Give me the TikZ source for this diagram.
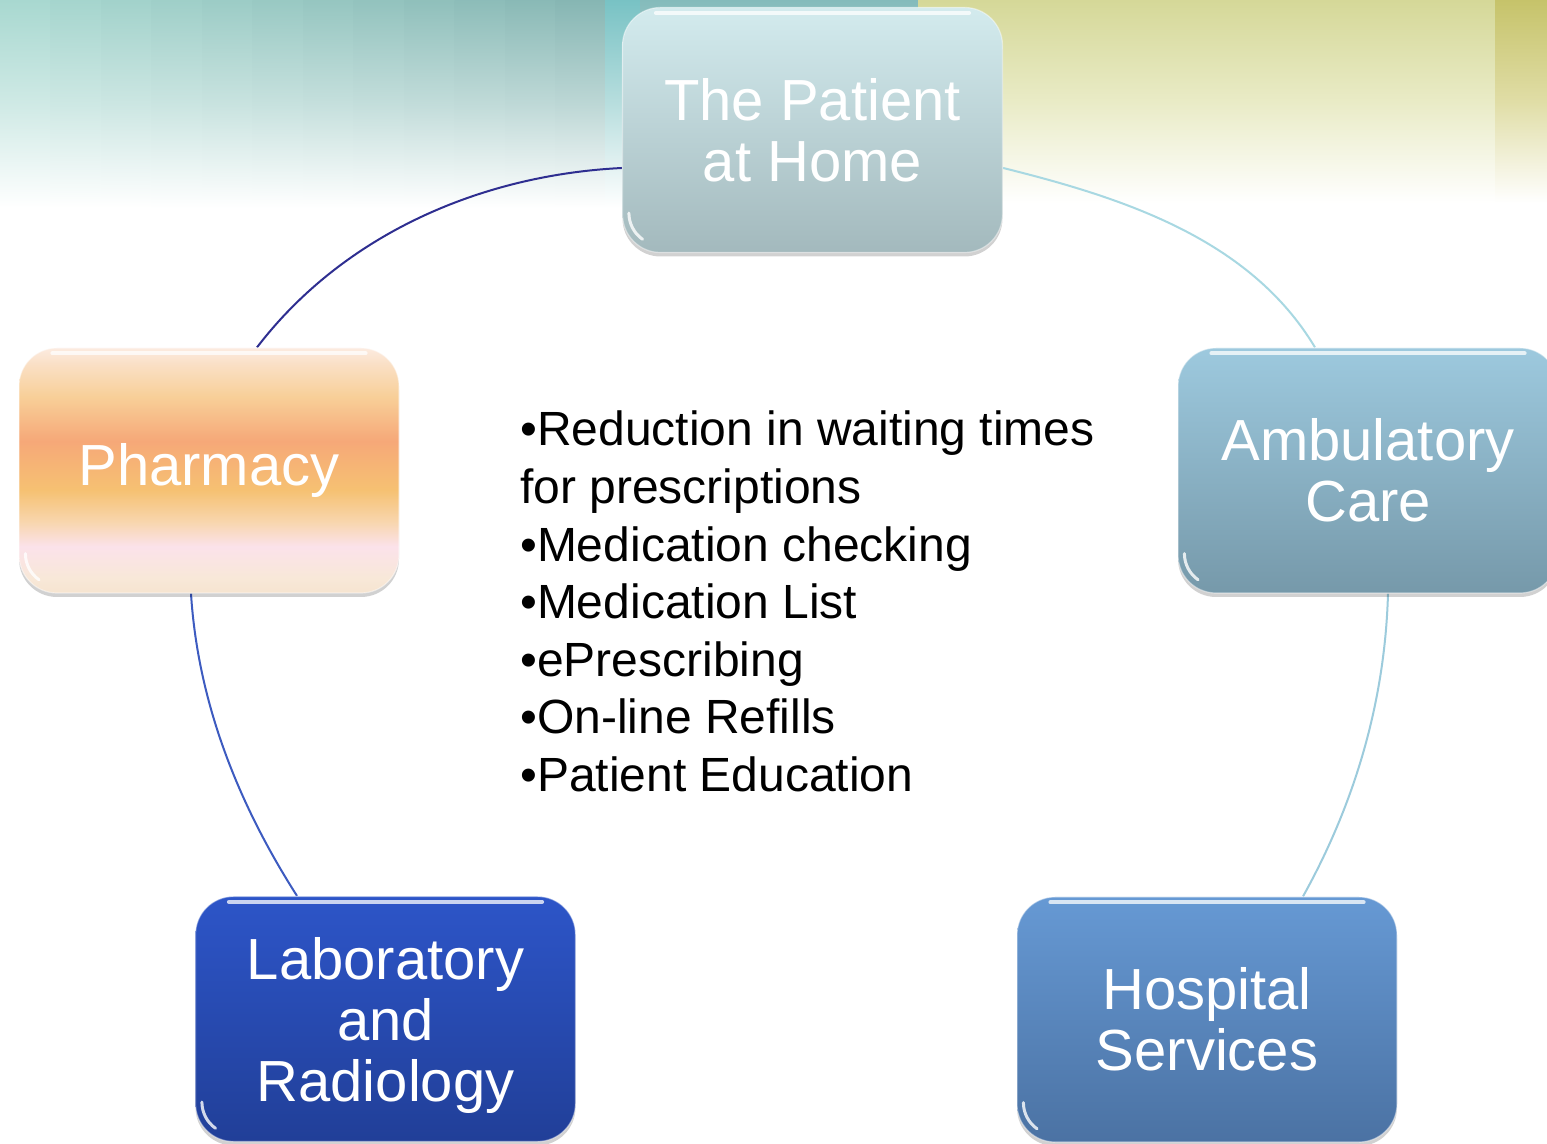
\documentclass[tikz,border=0pt]{standalone}
\usepackage{fontspec}
\setmainfont{Liberation Sans}
\usetikzlibrary{shadows}

\definecolor{homeTop}{HTML}{D3EBEE}
\definecolor{homeBot}{HTML}{A3B9BD}
\definecolor{ambTop}{HTML}{9DC9DE}
\definecolor{ambBot}{HTML}{7699AA}
\definecolor{labTop}{HTML}{2D55C8}
\definecolor{labBot}{HTML}{213F98}
\definecolor{hospTop}{HTML}{6699D4}
\definecolor{hospBot}{HTML}{4B72A3}
\definecolor{phA}{HTML}{FCEBE0}
\definecolor{phB}{HTML}{FADFC4}
\definecolor{phC}{HTML}{F8CF98}
\definecolor{phD}{HTML}{F6A878}
\definecolor{phE}{HTML}{F6C172}
\definecolor{phF}{HTML}{F8D6AE}
\definecolor{phG}{HTML}{FBE2EA}
\definecolor{phH}{HTML}{F8E8D8}
\definecolor{phI}{HTML}{F6E4D0}
\definecolor{arcNavy}{HTML}{2E2E90}
\definecolor{arcBlue}{HTML}{3D5BC0}
\definecolor{arcLight}{HTML}{A8D8E2}
\definecolor{arcLightB}{HTML}{9CCBDC}
\definecolor{tealL}{HTML}{A8D8D0}
\definecolor{tealR}{HTML}{86B6B3}
\definecolor{tealD}{HTML}{78C2C4}
\definecolor{tealDm}{HTML}{B8DEDE}
\definecolor{tealE}{HTML}{84BBBB}
\definecolor{tealEm}{HTML}{BCDADA}
\definecolor{yelA}{HTML}{D5D898}
\definecolor{yelAm}{HTML}{E9EBC6}
\definecolor{yelB}{HTML}{C6C36A}
\definecolor{yelBm}{HTML}{E0DDA6}

\pgfdeclareverticalshading{pharmshade}{100bp}{%
  color(0bp)=(phI); color(25bp)=(phI); color(28bp)=(phH);
  color(34.5bp)=(phG); color(39.5bp)=(phF); color(46bp)=(phE);
  color(56bp)=(phD); color(65bp)=(phC); color(71.5bp)=(phB);
  color(75bp)=(phA); color(100bp)=(phA)}

\pgfdeclarelayer{back}
\pgfdeclarelayer{arcs}
\pgfsetlayers{back,arcs,main}

\tikzset{
  cbox/.style={rounded corners=38pt, minimum width=380pt, minimum height=245pt,
    inner sep=0pt, align=center, text=white, font=\fontsize{58}{61}\selectfont,
    draw=white, draw opacity=0.45, line width=1.2pt,
    drop shadow={shadow xshift=0pt, shadow yshift=-4pt, opacity=0.18, fill=black}},
  arcline/.style={line width=2pt},
  infotext/.style={align=left, inner sep=0pt, text=black, font=\fontsize{48}{57.6}\selectfont},
  glossline/.style={white, opacity=0.75, line width=4pt, line cap=round},
  glint/.style={white, opacity=0.8, line width=3pt, line cap=round},
}

\newcommand\boxgloss[1]{%
  \draw[glossline] ([xshift=34pt,yshift=-6pt]#1.north west) -- ([xshift=-34pt,yshift=-6pt]#1.north east);
  \draw[glint] ([xshift=7pt,yshift=40pt]#1.south west) arc[start angle=180,end angle=235,radius=32pt];
}

\begin{document}
\begin{tikzpicture}[x=1pt,y=1pt]
\useasboundingbox (0,0) rectangle (1547,1143);
\clip (0,0) rectangle (1547,1143);

% background
\begin{pgfonlayer}{back}
  \fill[white] (0,0) rectangle (1547,1143);
  \foreach \i in {0,...,11}{
    \pgfmathsetmacro{\xa}{\i*50.5}
    \pgfmathsetmacro{\xb}{\i*50.5+51.5}
    \pgfmathtruncatemacro{\pc}{\i*100/11}
    \colorlet{stripTop}{tealR!\pc!tealL}
    \colorlet{stripMid}{stripTop!55!white}
    \shade[top color=stripTop, bottom color=white, middle color=stripMid] (\xa,935) rectangle (\xb,1143);
  }
  \shade[top color=tealD, bottom color=white, middle color=tealDm] (605,935) rectangle (640,1143);
  \shade[top color=tealE, bottom color=white, middle color=tealEm] (640,935) rectangle (918,1143);
  \shade[top color=yelA, bottom color=white, middle color=yelAm] (918,940) rectangle (1495,1143);
  \shade[top color=yelB, bottom color=white, middle color=yelBm] (1495,940) rectangle (1547,1143);
\end{pgfonlayer}

% boxes
\node[cbox, top color=homeTop, bottom color=homeBot] (home) at (812.5,1013) {The Patient\\at Home};
\node[cbox, shade, shading=pharmshade] (pharm) at (209,672.5) {Pharmacy};
\node[cbox, top color=ambTop, bottom color=ambBot] (amb) at (1368,672.5) {Ambulatory\\Care};
\node[cbox, top color=labTop, bottom color=labBot, text depth=0pt] (lab) at (385.5,124) {Laboratory\\and\\Radiology};
\node[cbox, top color=hospTop, bottom color=hospBot] (hosp) at (1207,123.5) {Hospital\\Services};

\boxgloss{home}
\boxgloss{pharm}
\boxgloss{amb}
\boxgloss{lab}
\boxgloss{hosp}

% connectors
\begin{pgfonlayer}{arcs}
  \draw[arcline, arcNavy] ([yshift=-38pt]home.west) .. controls (480,968) and (343,908) .. ([xshift=48pt]pharm.north);
  \draw[arcline, arcLight] ([yshift=-38pt]home.east) .. controls (1124,945) and (1250,904) .. ([xshift=-53pt]amb.north);
  \draw[arcline, arcBlue] ([xshift=-18pt]pharm.south) .. controls (198,439) and (239,338) .. ([xshift=-88.5pt]lab.north);
  \draw[arcline, arcLightB] ([xshift=20pt]amb.south) .. controls (1385,442) and (1355,340) .. ([xshift=96pt]hosp.north);
\end{pgfonlayer}

% central text
\node[infotext, anchor=north west] (info) at (520,732) {%
  •Reduction in waiting times\\
  for prescriptions\\
  •Medication checking\\
  •Medication List\\
  •ePrescribing\\
  •On-line Refills\\
  •Patient Education};
\end{tikzpicture}
\end{document}
